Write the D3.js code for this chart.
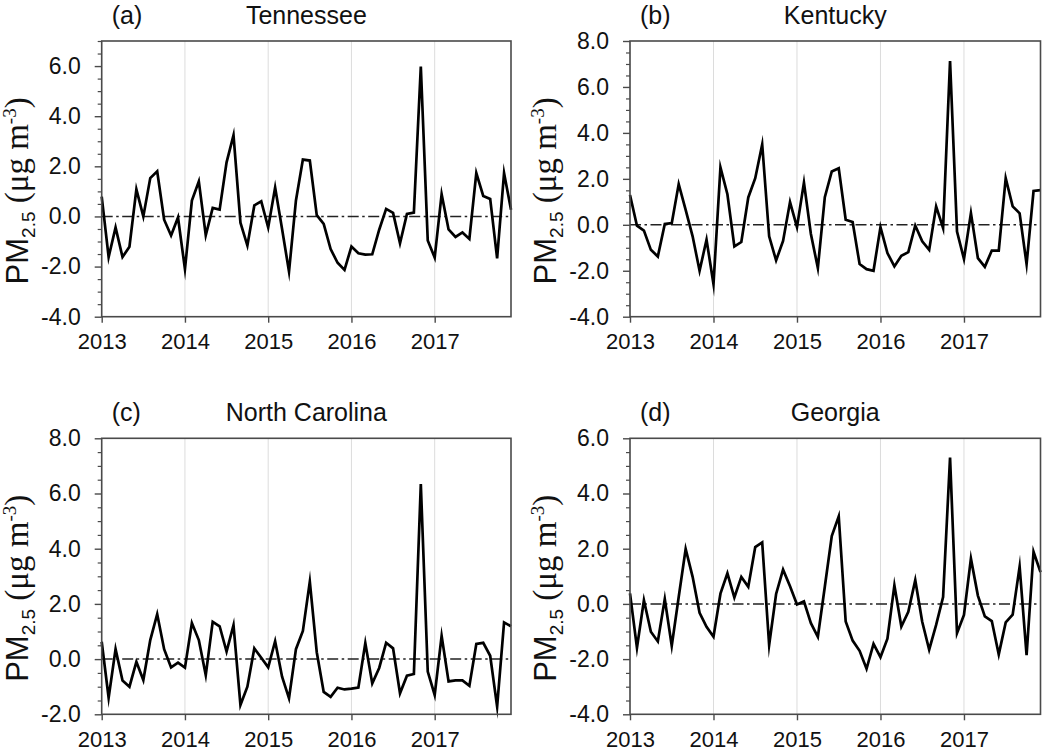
<!DOCTYPE html>
<html>
<head>
<meta charset="utf-8">
<script src="https://cdn.jsdelivr.net/npm/d3@7"></script>
<style>
  html, body { margin: 0; padding: 0; background: #fff; }
  svg { display: block; }
</style>
</head>
<body>
<svg id="chart" width="1050" height="751"></svg>
<script>
// ---- data (monthly anomalies, Jan 2013 .. Dec 2017) ----
const yearLabels = ["2013", "2014", "2015", "2016", "2017"];
const yearTickIndex = [0, 12, 24, 36, 48];

const tennessee = [
  0.79, -1.62, -0.44, -1.62, -1.21, 1.08, 0.0, 1.53, 1.8, -0.13, -0.76, -0.04,
  -2.1, 0.63, 1.4, -0.75, 0.34, 0.27, 2.16, 3.24, -0.25, -1.16, 0.44, 0.6,
  -0.44, 1.15, -0.5, -2.2, 0.64, 2.27, 2.23, 0.05, -0.3, -1.3, -1.85, -2.13,
  -1.2, -1.47, -1.52, -1.51, -0.53, 0.3, 0.14, -1.07, 0.1, 0.15, 5.98, -0.96,
  -1.64, 0.89, -0.52, -0.82, -0.64, -0.9, 1.73, 0.82, 0.7, -1.67, 1.73, 0.27
];
const kentucky = [
  1.3, -0.04, -0.25, -1.09, -1.38, 0.04, 0.07, 1.77, 0.65, -0.5, -2.0, -0.65,
  -2.58, 2.5, 1.33, -0.94, -0.75, 1.19, 2.03, 3.5, -0.5, -1.55, -0.7, 0.99,
  -0.1, 1.84, -0.4, -1.88, 1.2, 2.32, 2.46, 0.22, 0.12, -1.71, -1.93, -2.0,
  -0.1, -1.23, -1.81, -1.35, -1.19, -0.03, -0.72, -1.09, 0.8, -0.14, 7.13, -0.29,
  -1.49, 0.51, -1.45, -1.83, -1.12, -1.12, 2.03, 0.8, 0.5, -1.71, 1.47, 1.51
];
const northCarolina = [
  0.63, -1.4, 0.36, -0.78, -1.0, -0.1, -0.76, 0.69, 1.63, 0.36, -0.3, -0.13,
  -0.31, 1.31, 0.69, -0.58, 1.35, 1.19, 0.27, 1.23, -1.66, -1.0, 0.39, 0.05,
  -0.3, 0.65, -0.64, -1.42, 0.36, 1.02, 2.81, 0.25, -1.19, -1.37, -1.04, -1.1,
  -1.07, -1.03, 0.58, -0.88, -0.32, 0.59, 0.39, -1.24, -0.6, -0.54, 6.34, -0.45,
  -1.3, 0.84, -0.81, -0.77, -0.77, -0.97, 0.55, 0.59, 0.12, -1.72, 1.33, 1.19
];
const georgia = [
  0.38, -1.59, 0.13, -1.01, -1.36, 0.18, -1.52, 0.25, 1.99, 0.98, -0.32, -0.83,
  -1.19, 0.37, 1.11, 0.23, 0.98, 0.62, 2.06, 2.23, -1.49, 0.36, 1.24, 0.64,
  -0.02, 0.09, -0.7, -1.19, 0.62, 2.46, 3.17, -0.64, -1.33, -1.7, -2.35, -1.45,
  -1.93, -1.26, 0.67, -0.82, -0.29, 0.86, -0.65, -1.66, -0.76, 0.25, 5.3, -1.06,
  -0.4, 1.64, 0.3, -0.45, -0.62, -1.83, -0.67, -0.39, 1.35, -1.86, 1.89, 1.15
];

const panelNames = ["Tennessee", "Kentucky", "North Carolina", "Georgia"];
const panelLetters = ["(a)", "(b)", "(c)", "(d)"];
const panelSeries = [tennessee, kentucky, northCarolina, georgia];
const yDomains = [[-4, 7], [-4, 8], [-2, 8], [-4, 6]];
const yMajorTicks = [
  [-4, -2, 0, 2, 4, 6],
  [-4, -2, 0, 2, 4, 6, 8],
  [-2, 0, 2, 4, 6, 8],
  [-4, -2, 0, 2, 4, 6]
];

// ---- layout ----
const colX = [[101.7, 511], [630, 1040.5]];
const rowY = [[41, 316.7], [438.3, 714.3]];

const svg = d3.select("#chart");
const SANS = "'Liberation Sans', Arial, Helvetica, sans-serif";
const SERIF = "'Liberation Serif', 'Times New Roman', serif";
const frameColor = "#4a4a4a";

panelSeries.forEach((series, p) => {
  const col = p % 2, row = Math.floor(p / 2);
  const [x0, x1] = colX[col];
  const [y0, y1] = rowY[row];
  const x = d3.scaleLinear().domain([0, series.length - 1]).range([x0, x1]);
  const y = d3.scaleLinear().domain(yDomains[p]).range([y1, y0]);
  const g = svg.append("g");

  // vertical year grid lines
  g.selectAll("line.grid").data(yearTickIndex).join("line")
    .attr("x1", d => x(d)).attr("x2", d => x(d))
    .attr("y1", y0).attr("y2", y1)
    .attr("stroke", "#dcdcdc").attr("stroke-width", 1);

  // zero reference line (dash-dot)
  g.append("line")
    .attr("x1", x0).attr("x2", x1)
    .attr("y1", y(0)).attr("y2", y(0))
    .attr("stroke", "#222").attr("stroke-width", 1.5)
    .attr("stroke-dasharray", "11,3.5,2.5,3.5");

  // data line
  const line = d3.line().x((d, i) => x(i)).y(d => y(d));
  g.append("path").datum(series)
    .attr("d", line)
    .attr("fill", "none")
    .attr("stroke", "#000")
    .attr("stroke-width", 2.7)
    .attr("stroke-linejoin", "miter")
    .attr("stroke-miterlimit", 10);

  // frame
  g.append("rect")
    .attr("x", x0).attr("y", y0)
    .attr("width", x1 - x0).attr("height", y1 - y0)
    .attr("fill", "none").attr("stroke", frameColor).attr("stroke-width", 1.6);

  // minor y ticks every 0.5
  const [dmin, dmax] = yDomains[p];
  const minor = d3.range(dmin, dmax + 0.001, 0.5).filter(v => Math.abs(v % 2) > 0.01);
  const minorAxis = d3.axisLeft(y).tickValues(minor).tickSize(4).tickFormat("");
  const gm = g.append("g").attr("transform", `translate(${x0},0)`).call(minorAxis);
  gm.select(".domain").remove();
  gm.selectAll(".tick line").attr("stroke", frameColor).attr("stroke-width", 1.2);

  // major y ticks
  const yAxis = d3.axisLeft(y).tickValues(yMajorTicks[p]).tickSize(7).tickPadding(14)
    .tickFormat(v => v.toFixed(1));
  const gy = g.append("g").attr("transform", `translate(${x0},0)`).call(yAxis);
  gy.select(".domain").remove();
  gy.selectAll(".tick line").attr("stroke", frameColor).attr("stroke-width", 1.4);
  gy.selectAll(".tick text")
    .attr("font-family", SANS).attr("font-size", 23).attr("fill", "#111");

  // x axis
  const xAxis = d3.axisBottom(x).tickValues(yearTickIndex).tickSize(6).tickPadding(11)
    .tickFormat((d, i) => yearLabels[i]);
  const gx = g.append("g").attr("transform", `translate(0,${y1})`).call(xAxis);
  gx.select(".domain").remove();
  gx.selectAll(".tick line").attr("stroke", frameColor).attr("stroke-width", 1.4);
  gx.selectAll(".tick text")
    .attr("font-family", SANS).attr("font-size", 22).attr("fill", "#111");

  // titles
  const cx = (x0 + x1) / 2;
  g.append("text").attr("x", cx).attr("y", y0 - 17)
    .attr("text-anchor", "middle")
    .attr("font-family", SANS).attr("font-size", 25).attr("fill", "#111")
    .text(panelNames[p]);
  g.append("text").attr("x", x0 + 10).attr("y", y0 - 17)
    .attr("font-family", SANS).attr("font-size", 25).attr("fill", "#111")
    .text(panelLetters[p]);

  // y label
  const ly = g.append("text")
    .attr("transform", `translate(${x0 - 74},${(y0 + y1) / 2 + 12}) rotate(-90)`)
    .attr("text-anchor", "middle").attr("fill", "#111");
  ly.append("tspan").attr("font-family", SANS).attr("font-size", 31).text("PM");
  ly.append("tspan").attr("font-family", SANS).attr("font-size", 19).attr("dy", 7).text("2.5");
  ly.append("tspan").attr("font-family", SERIF).attr("font-size", 33).attr("dy", -7).text(" (\u03BCg m");
  ly.append("tspan").attr("font-family", SERIF).attr("font-size", 19).attr("dy", -12).text("-3");
  ly.append("tspan").attr("font-family", SERIF).attr("font-size", 33).attr("dy", 12).text(")");
});
</script>
</body>
</html>
